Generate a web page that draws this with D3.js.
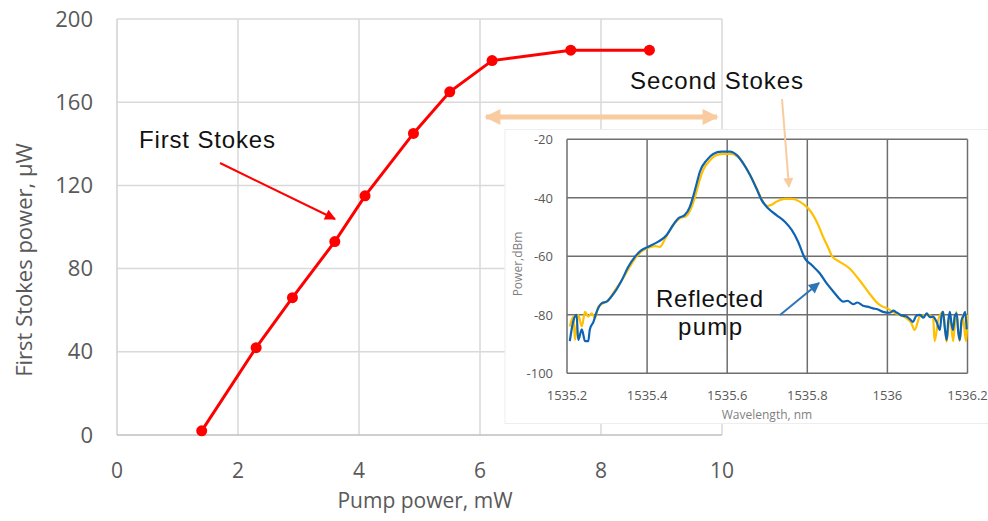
<!DOCTYPE html>
<html><head><meta charset="utf-8">
<script src="https://cdn.jsdelivr.net/npm/d3@7"></script>
<style>
html,body{margin:0;padding:0;background:#fff;}
svg{display:block;}
</style>
</head><body>
<svg id="c" width="988" height="521"></svg>
<script>
// ---------- main chart data ----------
const pumpPower   = [1.4, 2.3, 2.9, 3.6, 4.1, 4.9, 5.5, 6.2, 7.5, 8.8];
const firstStokes = [2, 42, 66, 93, 115, 145, 165, 180, 185, 185];
const mainXTicks = [0, 2, 4, 6, 8, 10];
const mainYTicks = [0, 40, 80, 120, 160, 200];

// ---------- inset spectra ----------
const blueWl = [1535.207,1535.216,1535.224,1535.228,1535.237,1535.245,1535.253,1535.257,1535.266,1535.274,1535.287,1535.299,1535.307,1535.320,1535.337,1535.353,1535.370,1535.386,1535.403,1535.428,1535.449,1535.465,1535.478,1535.494,1535.507,1535.515,1535.524,1535.532,1535.549,1535.565,1535.586,1535.607,1535.624,1535.640,1535.657,1535.673,1535.686,1535.702,1535.723,1535.744,1535.761,1535.777,1535.794,1535.811,1535.831,1535.848,1535.869,1535.880,1535.890,1535.900,1535.915,1535.925,1535.939,1535.950,1535.964,1535.975,1535.989,1536.006,1536.015,1536.023,1536.035,1536.048,1536.056,1536.064,1536.072,1536.081,1536.090,1536.098,1536.106,1536.114,1536.123,1536.131,1536.135,1536.139,1536.143,1536.148,1536.152,1536.156,1536.160,1536.164,1536.168,1536.173,1536.177,1536.181,1536.185,1536.189,1536.194,1536.198];
const bluePow = [-89,-82,-80,-88.6,-85,-89,-89,-85,-82.4,-79,-76,-75.5,-74.4,-72.1,-68.1,-63.6,-60.1,-57.9,-56.7,-55,-52.7,-49.3,-47,-45.9,-43,-39.6,-35,-31,-27.1,-25,-24.2,-24.2,-25.4,-28.2,-32.2,-36.8,-40.8,-43.6,-45.9,-48.2,-51,-55,-60.7,-63,-65.8,-69.2,-72.7,-74.5,-75.5,-75.2,-76.4,-75.8,-76.9,-77.2,-77.8,-78.1,-79,-79.3,-78.6,-79.2,-80.2,-80.6,-81.5,-82.4,-80.3,-80,-81,-79.5,-80.8,-80.6,-82.5,-85.2,-80.5,-79,-84,-88.6,-82,-79,-83,-85.2,-80.5,-79.5,-86,-88.6,-82,-80.6,-79,-85];

const yellowWl = [1535.207,1535.216,1535.220,1535.228,1535.237,1535.245,1535.253,1535.262,1535.270,1535.278,1535.291,1535.303,1535.320,1535.340,1535.357,1535.374,1535.390,1535.405,1535.420,1535.432,1535.445,1535.455,1535.470,1535.482,1535.497,1535.510,1535.520,1535.530,1535.540,1535.555,1535.570,1535.590,1535.610,1535.627,1535.643,1535.660,1535.676,1535.690,1535.700,1535.712,1535.723,1535.744,1535.761,1535.781,1535.802,1535.815,1535.828,1535.840,1535.852,1535.862,1535.880,1535.905,1535.930,1535.955,1535.976,1535.988,1536.000,1536.012,1536.030,1536.048,1536.060,1536.068,1536.081,1536.098,1536.114,1536.118,1536.127,1536.139,1536.148,1536.156,1536.164,1536.172,1536.180,1536.188,1536.196,1536.200];
const yellowPow = [-84,-80.6,-88.6,-80,-84,-79,-80.6,-79.5,-81.2,-77.2,-76,-75,-71.6,-67.5,-63.5,-60,-58,-57,-56.5,-56.8,-54,-51.5,-48.5,-47,-46.3,-43.5,-39.5,-34.5,-30.5,-27.5,-25.6,-25,-25,-26,-28.8,-33,-37.5,-41.5,-42.8,-42.3,-41.3,-40.4,-40.4,-41.3,-43.6,-46,-49.5,-53.5,-57,-60,-61.8,-64.1,-68.1,-72.7,-76.1,-77.2,-77.8,-78.9,-80,-81.2,-82.9,-85.2,-80.6,-80,-80.6,-89,-81.8,-79,-89.2,-80,-89,-79,-89,-80,-89,-80];

const insetXTicks = [1535.2, 1535.4, 1535.6, 1535.8, 1536, 1536.2];
const insetYTicks = [-20, -40, -60, -80, -100];

const svg = d3.select("#c");
const tickFont = "'Open Sans', 'Segoe UI', sans-serif";
const annFont = "'Liberation Sans', Arial, sans-serif";

// ---------- main scales ----------
const x = d3.scaleLinear().domain([0, 10]).range([117, 722]);
const y = d3.scaleLinear().domain([0, 200]).range([435, 19]);

const main = svg.append("g");
main.append("g").selectAll("line").data(mainXTicks.filter(d => d > 0)).join("line")
  .attr("x1", d => x(d)).attr("x2", d => x(d)).attr("y1", y(0)).attr("y2", y(200))
  .attr("stroke", "#d9d9d9").attr("stroke-width", 1.5);
main.append("g").selectAll("line").data(mainYTicks.filter(d => d > 0)).join("line")
  .attr("x1", x(0)).attr("x2", x(10)).attr("y1", d => y(d)).attr("y2", d => y(d))
  .attr("stroke", "#d9d9d9").attr("stroke-width", 1.5);
main.append("line").attr("x1", x(0)).attr("x2", x(0)).attr("y1", y(0)).attr("y2", y(200))
  .attr("stroke", "#d0d0d0").attr("stroke-width", 1.5);
main.append("line").attr("x1", x(0)).attr("x2", x(10)).attr("y1", y(0)).attr("y2", y(0))
  .attr("stroke", "#bfbfbf").attr("stroke-width", 1.5);
main.append("g").selectAll("text").data(mainXTicks).join("text")
  .attr("x", d => x(d)).attr("y", 477.5).attr("text-anchor", "middle")
  .attr("font-family", tickFont).attr("font-size", 21).attr("fill", "#595959")
  .text(d => d);
main.append("g").selectAll("text").data(mainYTicks).join("text")
  .attr("x", 93).attr("y", d => y(d) + 7.5).attr("text-anchor", "end")
  .attr("font-family", tickFont).attr("font-size", 22).attr("fill", "#595959")
  .text(d => d);
main.append("text").attr("x", 425).attr("y", 508).attr("text-anchor", "middle")
  .attr("font-family", tickFont).attr("font-size", 21).attr("fill", "#595959")
  .text("Pump power, mW");
main.append("text").attr("transform", "translate(32,260) rotate(-90)").attr("text-anchor", "middle")
  .attr("font-family", tickFont).attr("font-size", 22).attr("fill", "#595959")
  .text("First Stokes power, μW");

const mainData = pumpPower.map((p, i) => [p, firstStokes[i]]);
main.append("path").datum(mainData)
  .attr("d", d3.line().x(d => x(d[0])).y(d => y(d[1])))
  .attr("fill", "none").attr("stroke", "#ff0000").attr("stroke-width", 3);
main.append("g").selectAll("circle").data(mainData).join("circle")
  .attr("cx", d => x(d[0])).attr("cy", d => y(d[1])).attr("r", 5.5).attr("fill", "#ff0000");

const defs = svg.append("defs");
function marker(id, color, w, h) {
  defs.append("marker").attr("id", id).attr("viewBox", "0 0 10 10").attr("refX", 9).attr("refY", 5)
    .attr("markerWidth", w).attr("markerHeight", h).attr("markerUnits", "userSpaceOnUse")
    .attr("orient", "auto-start-reverse")
    .append("path").attr("d", "M0,0 L10,5 L0,10 Z").attr("fill", color);
}
marker("mRed", "#ff0000", 14, 11);
marker("mOrange", "#f8cba0", 18, 16);
marker("mOrangeThin", "#f8cba0", 12, 10);
marker("mBlue", "#2e75b6", 14, 11);

svg.append("line").attr("x1", 486).attr("y1", 117).attr("x2", 717).attr("y2", 117)
  .attr("stroke", "#f8cba0").attr("stroke-width", 5)
  .attr("marker-start", "url(#mOrange)").attr("marker-end", "url(#mOrange)");

// ---------- inset ----------
const ix = d3.scaleLinear().domain([1535.2, 1536.2]).range([567, 967.5]);
const iy = d3.scaleLinear().domain([-100, -20]).range([373.3, 139.3]);
const inset = svg.append("g");
inset.append("rect").attr("x", 505).attr("y", 129.5).attr("width", 490).attr("height", 294)
  .attr("fill", "#fff").attr("stroke", "#eeeeee").attr("stroke-width", 1);
inset.append("g").selectAll("line").data(insetXTicks).join("line")
  .attr("x1", d => ix(d)).attr("x2", d => ix(d)).attr("y1", iy(-100)).attr("y2", iy(-20))
  .attr("stroke", "#6e6e6e").attr("stroke-width", 1.5);
inset.append("g").selectAll("line").data(insetYTicks).join("line")
  .attr("x1", ix(1535.2)).attr("x2", ix(1536.2)).attr("y1", d => iy(d)).attr("y2", d => iy(d))
  .attr("stroke", "#6e6e6e").attr("stroke-width", 1.5);
inset.append("g").selectAll("text").data(insetXTicks).join("text")
  .attr("x", d => ix(d)).attr("y", 400).attr("text-anchor", "middle")
  .attr("font-family", tickFont).attr("font-size", 13).attr("fill", "#595959")
  .text(d => d);
inset.append("g").selectAll("text").data(insetYTicks).join("text")
  .attr("x", 553).attr("y", d => iy(d) + 5).attr("text-anchor", "end")
  .attr("font-family", tickFont).attr("font-size", 13).attr("fill", "#595959")
  .text(d => d);
inset.append("text").attr("x", 767).attr("y", 419).attr("text-anchor", "middle")
  .attr("font-family", tickFont).attr("font-size", 12).attr("fill", "#7f7f7f")
  .text("Wavelength, nm");
inset.append("text").attr("transform", "translate(522,264) rotate(-90)").attr("text-anchor", "middle")
  .attr("font-family", tickFont).attr("font-size", 12).attr("fill", "#7f7f7f")
  .text("Power,dBm");

const line2 = d3.line().x(d => ix(d[0])).y(d => iy(d[1])).curve(d3.curveMonotoneX);
inset.append("path").datum(yellowWl.map((w, i) => [w, yellowPow[i]]))
  .attr("d", line2).attr("fill", "none").attr("stroke", "#ffc000").attr("stroke-width", 2.2);
inset.append("path").datum(blueWl.map((w, i) => [w, bluePow[i]]))
  .attr("d", line2).attr("fill", "none").attr("stroke", "#0e64b4").attr("stroke-width", 2.2);

// ---------- annotations ----------
svg.append("text").attr("x", 139).attr("y", 148).attr("font-family", annFont).attr("font-size", 24)
  .attr("textLength", 136).attr("fill", "#111").text("First Stokes");
svg.append("line").attr("x1", 220).attr("y1", 163).attr("x2", 335).attr("y2", 219)
  .attr("stroke", "#ff0000").attr("stroke-width", 2).attr("marker-end", "url(#mRed)");

svg.append("text").attr("x", 630).attr("y", 89).attr("font-family", annFont).attr("font-size", 24)
  .attr("textLength", 173).attr("fill", "#111").text("Second Stokes");
svg.append("line").attr("x1", 782).attr("y1", 99).attr("x2", 789).attr("y2", 187)
  .attr("stroke", "#f8cba0").attr("stroke-width", 2).attr("marker-end", "url(#mOrangeThin)");

svg.append("text").attr("x", 656).attr("y", 307).attr("font-family", annFont)
  .attr("font-size", 24).attr("textLength", 107).attr("fill", "#111").text("Reflected");
svg.append("text").attr("x", 678).attr("y", 335).attr("font-family", annFont)
  .attr("font-size", 24).attr("textLength", 64).attr("fill", "#111").text("pump");
svg.append("line").attr("x1", 780).attr("y1", 315).attr("x2", 819).attr("y2", 283)
  .attr("stroke", "#2e75b6").attr("stroke-width", 2).attr("marker-end", "url(#mBlue)");
</script>
</body></html>
